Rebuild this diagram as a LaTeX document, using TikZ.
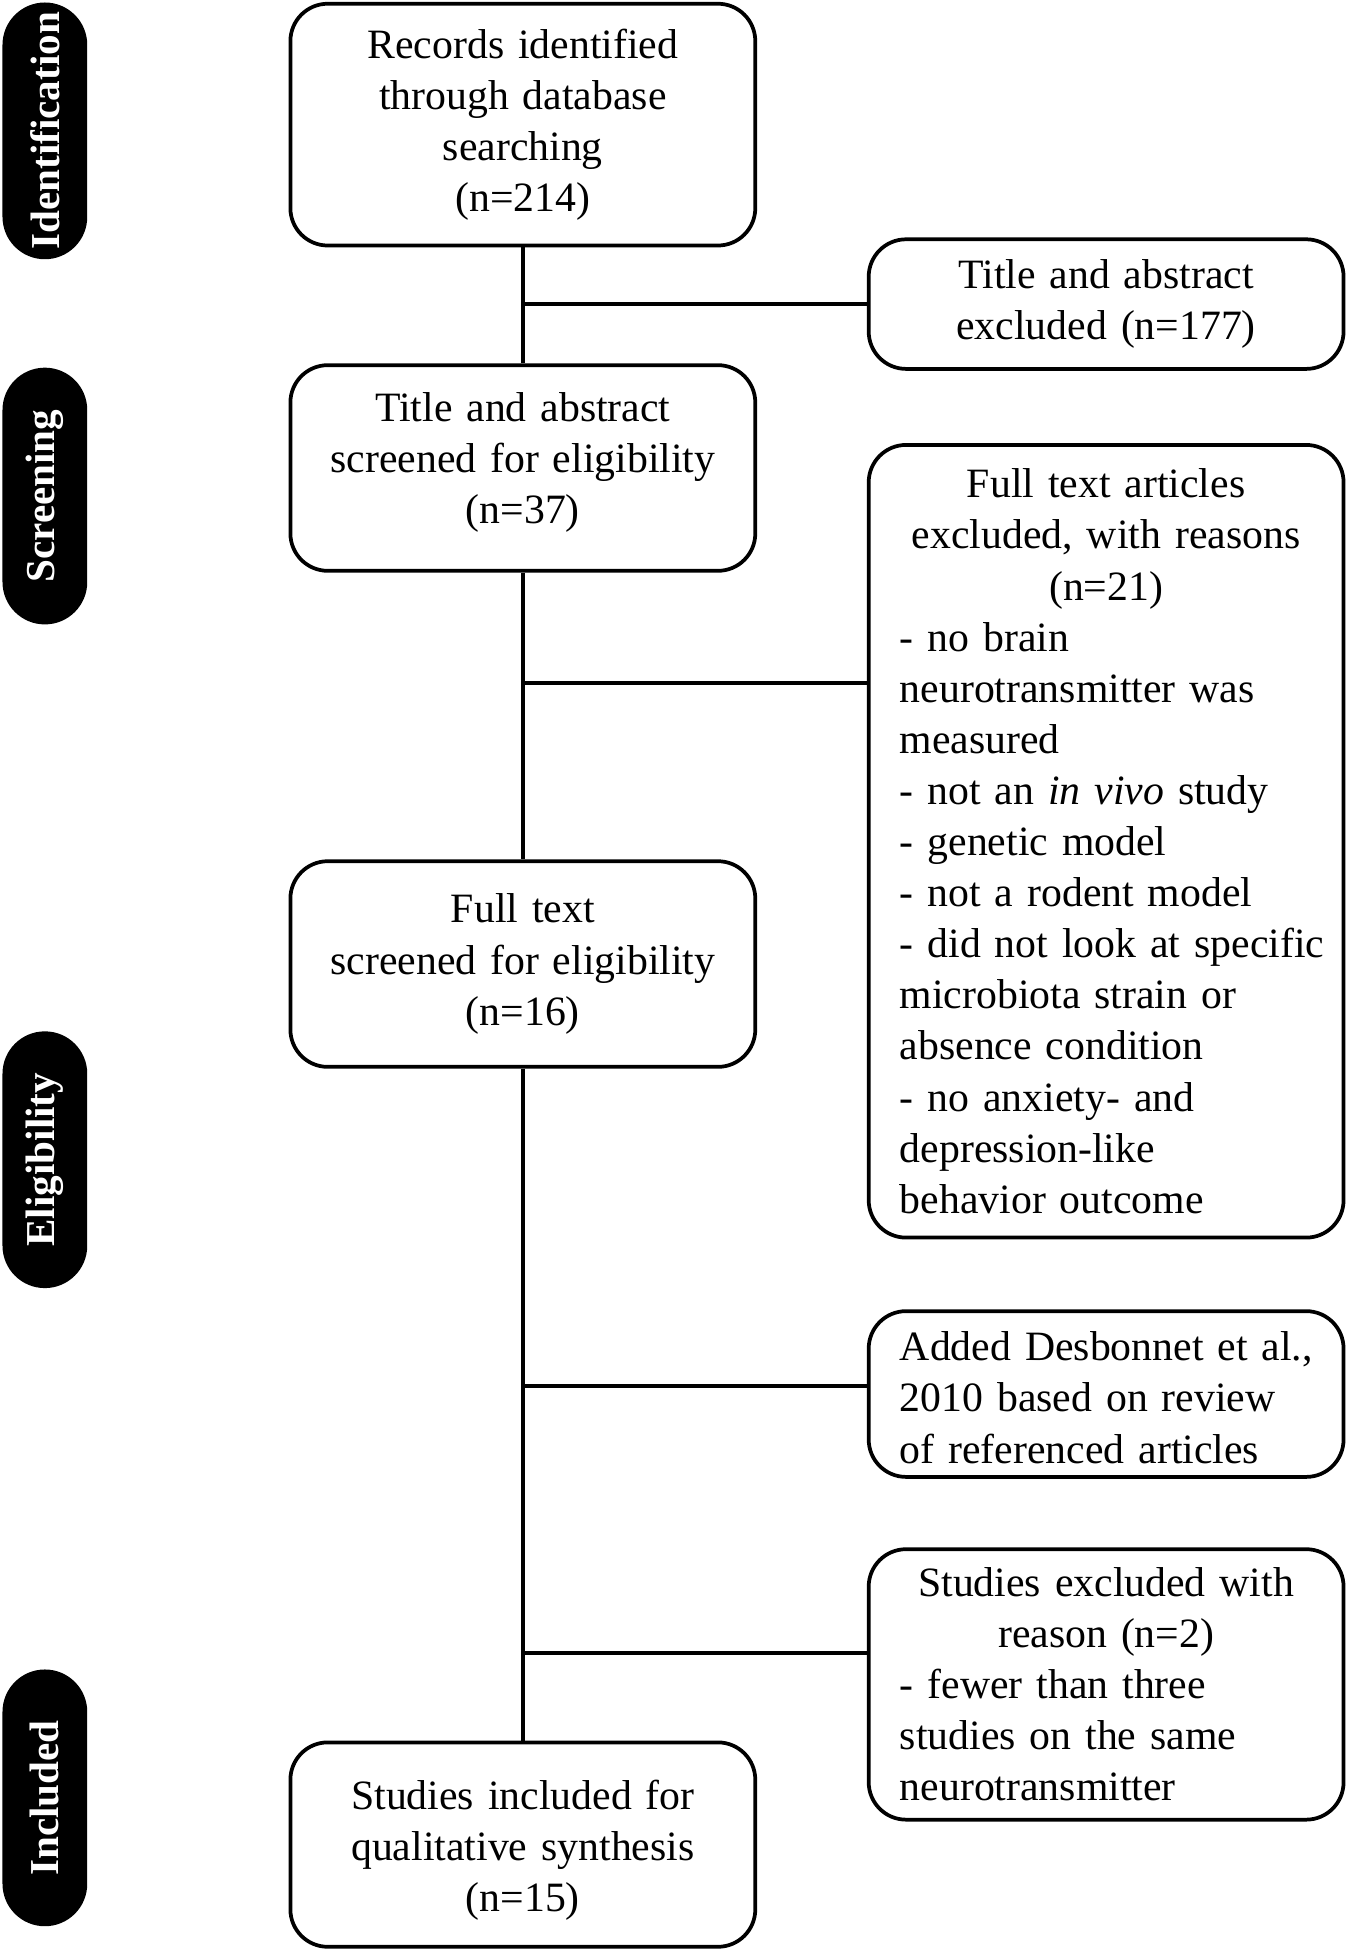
\documentclass[tikz,border=0pt]{standalone}
\usepackage{fontspec}
\setmainfont{Liberation Serif}
\begin{document}
\begin{tikzpicture}[x=0.5pt,y=-0.5pt,
  box/.style={draw,line width=1.5pt,rounded corners=15pt,fill=white,inner ysep=0pt,font=\fontsize{16.75}{20.5}\selectfont},
  mainbox/.style={box,text width=161.5pt,inner xsep=12.5pt,align=center},
  sidebox/.style={box,text width=165.5pt,inner xsep=12.5pt,align=left},
  stage/.style={fill=black,text=white,rounded corners=17pt,rotate=90,minimum width=103pt,minimum height=34pt,inner sep=0pt,font=\fontsize{16.5}{20}\selectfont\bfseries},
  link/.style={line width=1.5pt}]
\useasboundingbox (0,0) rectangle (1083,1567);
% stages
\node[stage] (idf) at (36,105) {Identification};
\node[stage] (scr) at (36,398) {Screening};
\node[stage] (elg) at (36,930.5) {Eligibility};
\node[stage] (inc) at (36,1442.5) {Included};
% main column
\node[mainbox,minimum height=97pt] (b1) at (419.5,100) {Records identified\\through database\\searching\\(n=214)};
\node[mainbox,minimum height=82.5pt] (b3) at (419.5,375.5) {Title and abstract\\screened for eligibility\\(n=37)\rule[-8pt]{0pt}{8pt}};
\node[mainbox,minimum height=82.5pt] (b5) at (419.5,773.5) {Full text\\screened for eligibility\\(n=16)};
\node[mainbox,minimum height=82pt] (b8) at (419.5,1480) {\rule{0pt}{16.5pt}Studies included for\\qualitative synthesis\\(n=15)};
% side boxes
\node[sidebox,align=center,minimum height=52pt] (b2) at (887.5,244) {Title and abstract\\excluded (n=177)};
\node[sidebox,minimum height=318pt] (b4) at (887.5,675) {{\centering Full text articles\\excluded, with reasons\\(n=21)\par}
- no brain\\neurotransmitter was\\measured\\- not an \textit{in vivo} study\\- genetic model\\- not a rodent model\\\mbox{- did not look at specific}\\microbiota strain or\\absence condition\\- no anxiety- and\\depression-like\\behavior outcome};
\node[sidebox,minimum height=66.5pt] (b6) at (887.5,1118.5) {\rule{0pt}{14.5pt}\mbox{Added Desbonnet et al.,}\\2010 based on review\\of referenced articles};
\node[sidebox,minimum height=108.5pt] (b7) at (887.5,1351.5) {{\centering Studies excluded with\\reason (n=2)\par}
- fewer than three\\studies on the same\\neurotransmitter};
% trunk
\draw[link] (b1) -- (b3);
\draw[link] (b3) -- (b5);
\draw[link] (b5) -- (b8);
% branches
\coordinate (j1) at (419.5,244);
\coordinate (j2) at (419.5,548);
\coordinate (j3) at (419.5,1112);
\coordinate (j4) at (419.5,1326);
\draw[link] (j1) -- (j1 -| b2.west);
\draw[link] (j2) -- (j2 -| b4.west);
\draw[link] (j3) -- (j3 -| b6.west);
\draw[link] (j4) -- (j4 -| b7.west);
\end{tikzpicture}
\end{document}
